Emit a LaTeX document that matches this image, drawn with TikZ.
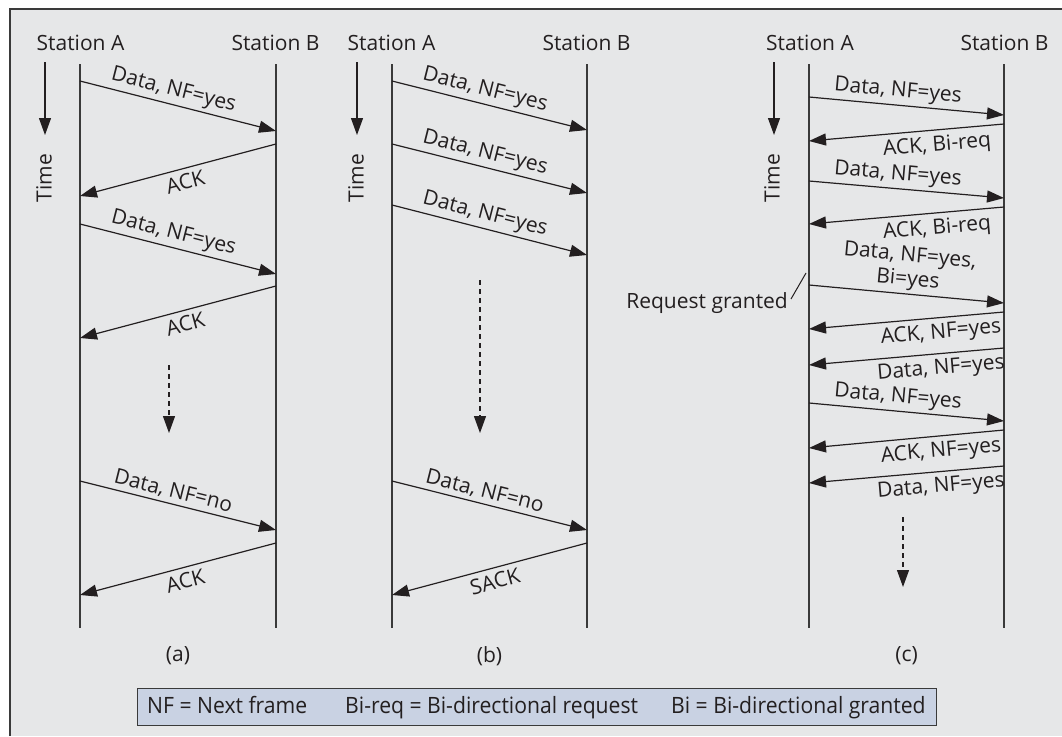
\documentclass[tikz,border=0pt]{standalone}
\usepackage{fontspec}
\setmainfont{Open Sans}
\newfontfamily\legendfont[FakeStretch=0.94]{Open Sans}
\usetikzlibrary{arrows.meta}
\definecolor{ink}{HTML}{231F20}
\definecolor{panel}{HTML}{E6E7E8}
\definecolor{keyfill}{HTML}{C9D2E3}
\definecolor{rule}{HTML}{3A3A3A}

\begin{document}
\begin{tikzpicture}[x=1pt,y=-1pt,
  txt/.style={text=ink,font=\fontsize{21}{24}\selectfont,inner sep=0pt},
  lifeline/.style={draw=rule,line width=1.4pt},
  msg/.style={draw=ink,line width=1.2pt,-{Triangle[length=17pt,width=12pt]}},
  flow/.style={msg,dash pattern=on 5pt off 4pt},
  up/.style={txt,sloped,above,inner sep=3pt},
  dn/.style={txt,sloped,below,inner sep=5pt},
  keytxt/.style={text=ink,font=\legendfont\fontsize{22.5}{26}\selectfont,inner sep=0pt,anchor=base west},
]
\useasboundingbox (0,0) rectangle (1062,736);

% panel background with its top and left rules
\fill[panel] (10,9) rectangle (1062,736);
\draw[rule,line width=1.5pt] (10,736) -- (10,9) -- (1062,9);

% ---------- (a) stop-and-wait with next-frame flag ----------
\node[txt,anchor=base] (aStA) at (80.5,50) {Station A};
\node[txt,anchor=base] (aStB) at (275.5,50) {Station B};
\coordinate (aAtop) at (80,64);  \coordinate (aAbot) at (80,628);
\coordinate (aBtop) at (276,64); \coordinate (aBbot) at (276,628);
\draw[lifeline] (aAtop) -- (aAbot);
\draw[lifeline] (aBtop) -- (aBbot);
\coordinate (aT1) at (45,62); \coordinate (aT2) at (45,135);
\draw[msg] (aT1) -- (aT2);
\node[txt,rotate=90] (aTime) at (44,178) {Time};

\coordinate (a1s) at (80,81);   \coordinate (a1e) at (276,131);
\coordinate (a2s) at (276,144); \coordinate (a2e) at (80,196);
\coordinate (a3s) at (80,224);  \coordinate (a3e) at (276,274);
\coordinate (a4s) at (276,286); \coordinate (a4e) at (80,338);
\coordinate (a5s) at (80,481);  \coordinate (a5e) at (276,530);
\coordinate (a6s) at (276,543); \coordinate (a6e) at (80,595);
\draw[msg] (a1s) -- node[up,pos=0.46] (a1l) {Data, NF=yes} (a1e);
\draw[msg] (a2s) -- node[dn,pos=0.48] (a2l) {ACK} (a2e);
\draw[msg] (a3s) -- node[up,pos=0.46] (a3l) {Data, NF=yes} (a3e);
\draw[msg] (a4s) -- node[dn,pos=0.48] (a4l) {ACK} (a4e);
\draw[msg] (a5s) -- node[up,pos=0.46] (a5l) {Data, NF=no} (a5e);
\draw[msg] (a6s) -- node[dn,pos=0.48] (a6l) {ACK} (a6e);
\coordinate (aD1) at (169,365); \coordinate (aD2) at (169,433);
\draw[flow] (aD1) -- (aD2);
\node[txt] (acap) at (178,656) {(a)};

% ---------- (b) burst with selective acknowledgement ----------
\node[txt,anchor=base] (bStA) at (391.5,50) {Station A};
\node[txt,anchor=base] (bStB) at (586.5,50) {Station B};
\coordinate (bAtop) at (392,64);  \coordinate (bAbot) at (392,628);
\coordinate (bBtop) at (587,64);  \coordinate (bBbot) at (587,628);
\draw[lifeline] (bAtop) -- (bAbot);
\draw[lifeline] (bBtop) -- (bBbot);
\coordinate (bT1) at (357,62); \coordinate (bT2) at (357,135);
\draw[msg] (bT1) -- (bT2);
\node[txt,rotate=90] (bTime) at (356,178) {Time};

\coordinate (b1s) at (392,81);  \coordinate (b1e) at (587,130);
\coordinate (b2s) at (392,144); \coordinate (b2e) at (587,193);
\coordinate (b3s) at (392,205); \coordinate (b3e) at (587,255);
\coordinate (b4s) at (392,481); \coordinate (b4e) at (587,530);
\coordinate (b5s) at (587,543); \coordinate (b5e) at (392,595);
\draw[msg] (b1s) -- node[up,pos=0.46] (b1l) {Data, NF=yes} (b1e);
\draw[msg] (b2s) -- node[up,pos=0.46] (b2l) {Data, NF=yes} (b2e);
\draw[msg] (b3s) -- node[up,pos=0.46] (b3l) {Data, NF=yes} (b3e);
\draw[msg] (b4s) -- node[up,pos=0.46] (b4l) {Data, NF=no} (b4e);
\draw[msg] (b5s) -- node[dn,pos=0.49] (b5l) {SACK} (b5e);
\coordinate (bD1) at (480,280); \coordinate (bD2) at (480,433);
\draw[flow] (bD1) -- (bD2);
\node[txt] (bcap) at (489.5,656) {(b)};

% ---------- (c) bi-directional exchange ----------
\node[txt,anchor=base] (cStA) at (810,50) {Station A};
\node[txt,anchor=base] (cStB) at (1004.5,50) {Station B};
\coordinate (cAtop) at (809,64);   \coordinate (cAbot) at (809,628);
\coordinate (cBtop) at (1004,64);  \coordinate (cBbot) at (1004,628);
\draw[lifeline] (cAtop) -- (cAbot);
\draw[lifeline] (cBtop) -- (cBbot);
\coordinate (cT1) at (774,62); \coordinate (cT2) at (774,135);
\draw[msg] (cT1) -- (cT2);
\node[txt,rotate=90] (cTime) at (772,178) {Time};

\coordinate (c1s) at (809,97);    \coordinate (c1e) at (1004,115);
\coordinate (c2s) at (1004,124);  \coordinate (c2e) at (809,141);
\coordinate (c3s) at (809,181);   \coordinate (c3e) at (1004,198);
\coordinate (c4s) at (1004,207);  \coordinate (c4e) at (809,224);
\coordinate (c5s) at (809,285);   \coordinate (c5e) at (1004,303);
\coordinate (c6s) at (1004,312);  \coordinate (c6e) at (809,329);
\coordinate (c7s) at (1004,348);  \coordinate (c7e) at (809,365);
\coordinate (c8s) at (809,403);   \coordinate (c8e) at (1004,421);
\coordinate (c9s) at (1004,430);  \coordinate (c9e) at (809,448);
\coordinate (c10s) at (1004,466); \coordinate (c10e) at (809,483);
\draw[msg] (c1s) -- node[up,pos=0.45] (c1l) {Data, NF=yes} (c1e);
\draw[msg] (c2s) -- node[dn,pos=0.35] (c2l) {ACK, Bi-req} (c2e);
\draw[msg] (c3s) -- node[up,pos=0.45] (c3l) {Data, NF=yes} (c3e);
\draw[msg] (c4s) -- node[dn,pos=0.35] (c4l) {ACK, Bi-req} (c4e);
\draw[msg] (c5s) -- node[up,pos=0.5,align=center] (c5l) {Data, NF=yes,\\Bi=yes} (c5e);
\draw[msg] (c6s) -- node[dn,pos=0.33] (c6l) {ACK, NF=yes} (c6e);
\draw[msg] (c7s) -- node[dn,pos=0.33] (c7l) {Data, NF=yes} (c7e);
\draw[msg] (c8s) -- node[up,pos=0.45] (c8l) {Data, NF=yes} (c8e);
\draw[msg] (c9s) -- node[dn,pos=0.33] (c9l) {ACK, NF=yes} (c9e);
\draw[msg] (c10s) -- node[dn,pos=0.33] (c10l) {Data, NF=yes} (c10e);
\coordinate (cD1) at (903,517); \coordinate (cD2) at (903,587);
\draw[flow] (cD1) -- (cD2);
\node[txt] (ccap) at (906.5,656) {(c)};

% note on the granted request
\node[txt,anchor=base east] (rg) at (788,308) {Request granted};
\coordinate (rgfoot) at (791,299); \coordinate (rgtip) at (806,273);
\draw[draw=ink,line width=1pt] (rgfoot) -- (rgtip);

% ---------- key ----------
\node[draw=rule,fill=keyfill,line width=1.2pt,anchor=north west,
      minimum width=799pt,minimum height=37pt,inner sep=0pt] (key) at (137,688) {};
\node[keytxt] (k1) at (147,713) {NF = Next frame};
\node[keytxt] (k2) at (345,713) {Bi-req = Bi-directional request};
\node[keytxt] (k3) at (671,713) {Bi = Bi-directional granted};
\end{tikzpicture}
\end{document}
